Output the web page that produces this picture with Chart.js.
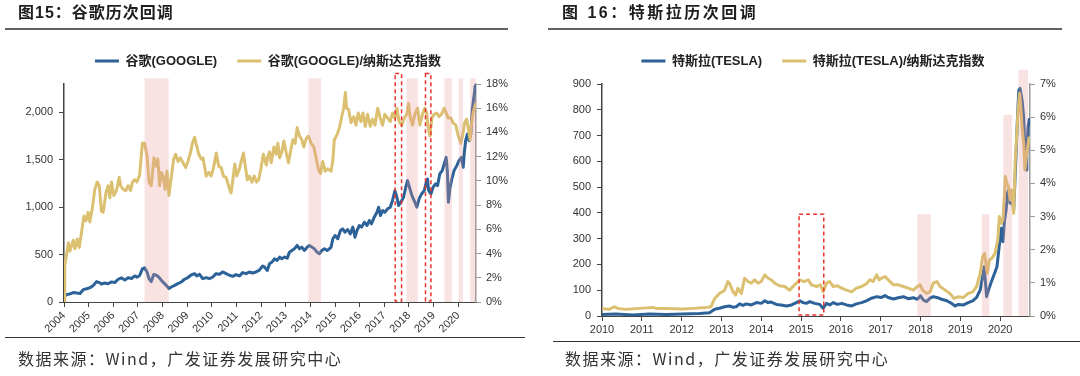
<!DOCTYPE html>
<html>
<head>
<meta charset="utf-8">
<script src="https://cdn.jsdelivr.net/npm/chart.js@4"></script>
<style>
  body { margin: 0; width: 1080px; height: 376px; background: #fff; position: relative; overflow: hidden; }
  .panel { position: absolute; top: 0; width: 540px; height: 376px; }
  .panel canvas { position: absolute; left: 0; top: 0; }
  .title { position: absolute; top: 2px; font: bold 16px "Liberation Sans", "Noto Sans CJK SC", sans-serif; line-height: 22px; letter-spacing: 1px; color: #1e1e1e; white-space: nowrap; }
  .rule { position: absolute; height: 2px; background: #606060; }
  .foot { position: absolute; height: 1px; background: #333; }
  .src { position: absolute; font: 16px "Noto Sans CJK SC", sans-serif; line-height: 20px; letter-spacing: 1.5px; color: #333; white-space: nowrap; }
</style>
</head>
<body>
<div class="panel" style="left:0">
  <canvas id="google" width="540" height="376"></canvas>
  <div class="title" style="left:18px">图15：谷歌历次回调</div>
  <div class="rule" style="left:5px;width:503px;top:28px"></div>
  <div class="foot" style="left:5px;width:520px;top:337px"></div>
  <div class="src" style="left:18px;top:348px">数据来源：Wind，广发证券发展研究中心</div>
</div>
<div class="panel" style="left:540px">
  <canvas id="tesla" width="540" height="376"></canvas>
  <div class="title" style="left:22px;letter-spacing:2.5px">图 16：特斯拉历次回调</div>
  <div class="rule" style="left:8px;width:514px;top:28px"></div>
  <div class="foot" style="left:13px;width:527px;top:341px"></div>
  <div class="src" style="left:25px;top:348px">数据来源：Wind，广发证券发展研究中心</div>
</div>
<script>
// 谷歌 股价（左轴）
const googleYears = [2004.00, 2004.11, 2004.24, 2004.38, 2004.51, 2004.65, 2004.78, 2004.92, 2005.05, 2005.19,
  2005.32, 2005.43, 2005.52, 2005.66, 2005.79, 2005.93, 2006.06, 2006.20, 2006.33, 2006.47,
  2006.60, 2006.74, 2006.87, 2006.96, 2007.07, 2007.18, 2007.27, 2007.37, 2007.45, 2007.54,
  2007.64, 2007.75, 2007.85, 2007.95, 2008.04, 2008.15, 2008.26, 2008.35, 2008.49, 2008.62,
  2008.76, 2008.89, 2009.03, 2009.16, 2009.30, 2009.39, 2009.50, 2009.63, 2009.77, 2009.90,
  2010.04, 2010.17, 2010.31, 2010.44, 2010.58, 2010.71, 2010.85, 2010.98, 2011.12, 2011.25,
  2011.39, 2011.52, 2011.65, 2011.79, 2011.92, 2012.06, 2012.14, 2012.25, 2012.34, 2012.44,
  2012.54, 2012.65, 2012.75, 2012.84, 2012.95, 2013.06, 2013.15, 2013.25, 2013.35, 2013.46,
  2013.56, 2013.65, 2013.76, 2013.87, 2013.96, 2014.06, 2014.16, 2014.27, 2014.37, 2014.46,
  2014.57, 2014.68, 2014.77, 2014.84, 2014.91, 2015.00, 2015.11, 2015.22, 2015.31, 2015.40,
  2015.51, 2015.62, 2015.72, 2015.81, 2015.89, 2015.99, 2016.08, 2016.19, 2016.30, 2016.39,
  2016.48, 2016.59, 2016.70, 2016.77, 2016.84, 2016.93, 2017.02, 2017.13, 2017.24, 2017.33,
  2017.43, 2017.51, 2017.58, 2017.67, 2017.78, 2017.87, 2017.94, 2018.02, 2018.12, 2018.21,
  2018.32, 2018.41, 2018.51, 2018.62, 2018.70, 2018.75, 2018.80, 2018.89, 2018.98, 2019.08,
  2019.16, 2019.25, 2019.35, 2019.43, 2019.51, 2019.56, 2019.60, 2019.66, 2019.74, 2019.83,
  2019.94, 2020.03, 2020.13, 2020.20, 2020.24, 2020.30, 2020.37, 2020.44, 2020.51, 2020.57,
  2020.64, 2020.69, 2020.72];
const googlePrice = [55, 80, 85, 100, 95, 90, 130, 140, 150, 175,
  215, 205, 190, 200, 192, 212, 205, 240, 255, 232,
  255, 248, 275, 262, 280, 350, 360, 317, 246, 215,
  290, 282, 262, 229, 204, 176, 141, 158, 176, 194,
  211, 240, 258, 285, 299, 275, 292, 246, 257, 246,
  264, 299, 292, 317, 299, 282, 271, 289, 275, 310,
  299, 317, 306, 317, 334, 380, 368, 333, 404, 421,
  456, 439, 474, 456, 474, 463, 526, 544, 561, 597,
  561, 579, 544, 579, 597, 579, 561, 526, 509, 544,
  561, 544, 561, 579, 667, 702, 667, 754, 772, 737,
  765, 719, 790, 684, 754, 807, 790, 842, 807, 860,
  825, 895, 947, 1000, 912, 965, 947, 983, 1000, 1070,
  1175, 1105, 1018, 1053, 1105, 1211, 1281, 1211, 1123, 1070,
  1000, 1088, 1140, 1175, 1263, 1298, 1175, 1140, 1211, 1246,
  1228, 1351, 1386, 1456, 1526, 1369, 1053, 1193, 1298, 1386,
  1439, 1491, 1526, 1421, 1561, 1702, 1772, 1702, 1772, 2035,
  2175, 2281, 2211];
const googlePriceTicks = [0, 500, 1000, 1500, 2000];

// 谷歌/纳斯达克指数（右轴，%）
const googleRatioYears = [2004.00, 2004.03, 2004.18, 2004.24, 2004.38, 2004.45, 2004.54, 2004.62, 2004.71, 2004.81,
  2004.89, 2004.98, 2005.05, 2005.16, 2005.25, 2005.35, 2005.43, 2005.52, 2005.59, 2005.70,
  2005.79, 2005.86, 2005.93, 2006.02, 2006.13, 2006.24, 2006.30, 2006.40, 2006.51, 2006.60,
  2006.70, 2006.78, 2006.87, 2006.96, 2007.07, 2007.18, 2007.27, 2007.37, 2007.45, 2007.54,
  2007.65, 2007.75, 2007.81, 2007.88, 2007.95, 2008.02, 2008.10, 2008.18, 2008.26, 2008.36,
  2008.45, 2008.53, 2008.63, 2008.72, 2008.83, 2008.94, 2009.03, 2009.13, 2009.21, 2009.30,
  2009.37, 2009.47, 2009.57, 2009.64, 2009.72, 2009.77, 2009.88, 2009.97, 2010.07, 2010.18,
  2010.28, 2010.38, 2010.47, 2010.58, 2010.69, 2010.78, 2010.84, 2010.93, 2011.01, 2011.12,
  2011.18, 2011.28, 2011.36, 2011.44, 2011.52, 2011.63, 2011.72, 2011.82, 2011.90, 2011.99,
  2012.09, 2012.21, 2012.27, 2012.34, 2012.41, 2012.52, 2012.61, 2012.68, 2012.75, 2012.84,
  2012.92, 2013.02, 2013.11, 2013.19, 2013.29, 2013.38, 2013.46, 2013.56, 2013.65, 2013.73,
  2013.83, 2013.92, 2014.03, 2014.14, 2014.23, 2014.33, 2014.41, 2014.50, 2014.60, 2014.70,
  2014.84, 2014.91, 2014.97, 2015.08, 2015.18, 2015.27, 2015.35, 2015.42, 2015.47, 2015.55,
  2015.65, 2015.76, 2015.85, 2015.94, 2016.05, 2016.13, 2016.23, 2016.32, 2016.43, 2016.52,
  2016.62, 2016.73, 2016.83, 2016.93, 2017.02, 2017.13, 2017.24, 2017.33, 2017.43, 2017.51,
  2017.60, 2017.70, 2017.81, 2017.91, 2017.98, 2018.05, 2018.14, 2018.24, 2018.35, 2018.44,
  2018.55, 2018.64, 2018.72, 2018.78, 2018.85, 2018.93, 2019.02, 2019.13, 2019.22, 2019.32,
  2019.43, 2019.51, 2019.59, 2019.70, 2019.79, 2019.90, 2019.99, 2020.10, 2020.18, 2020.26,
  2020.34, 2020.42, 2020.48, 2020.53, 2020.61, 2020.71];
const googleRatio = [0, 3.0, 4.9, 4.2, 5.1, 4.4, 5.2, 4.5, 5.75, 7.1,
  6.7, 7.4, 6.6, 7.9, 9.3, 9.9, 9.6, 7.5, 7.4, 9.0,
  9.6, 8.6, 9.9, 8.8, 9.2, 10.3, 9.6, 9.3, 9.2, 9.6,
  9.2, 9.9, 10.1, 9.9, 10.5, 13.1, 13.1, 12.1, 9.9, 9.6,
  11.9, 11.2, 11.8, 9.6, 10.7, 10.4, 9.3, 10.8, 8.8, 10.4,
  11.8, 12.2, 11.6, 11.9, 11.5, 11.1, 11.6, 12.3, 13.1, 13.6,
  13.0, 12.2, 11.8, 11.9, 11.0, 10.4, 10.7, 10.4, 11.1, 12.3,
  11.2, 11.1, 10.4, 10.3, 9.5, 9.0, 9.9, 11.4, 10.4, 11.0,
  11.5, 12.3, 11.2, 10.1, 10.4, 9.9, 10.4, 9.9, 10.1, 11.0,
  12.2, 11.3, 12.0, 12.4, 11.5, 12.8, 12.2, 13.1, 11.9, 12.4,
  13.3, 12.3, 11.5, 12.4, 13.4, 13.1, 14.4, 13.7, 13.4, 12.8,
  13.5, 13.7, 13.1, 12.8, 11.9, 10.9, 10.6, 11.6, 10.8, 11.0,
  10.8, 11.7, 13.4, 13.8, 14.4, 15.3, 16.0, 17.3, 16.0, 15.9,
  14.8, 15.3, 14.6, 15.6, 14.9, 15.6, 14.5, 15.5, 14.5, 15.1,
  14.6, 16.0, 15.2, 14.6, 15.5, 15.2, 14.9, 15.6, 15.2, 16.0,
  14.9, 14.6, 15.2, 15.5, 16.4, 15.3, 14.6, 15.5, 16.0, 14.6,
  15.5, 16.0, 15.6, 14.4, 13.7, 15.2, 15.5, 15.6, 15.3, 15.5,
  16.0, 15.6, 15.2, 15.2, 14.8, 14.6, 13.8, 13.1, 13.8, 14.8,
  15.1, 14.2, 13.4, 14.6, 15.7, 16.4];

// 特斯拉 股价（左轴）
const teslaYears = [2010.00, 2010.35, 2010.77, 2011.19, 2011.61, 2012.03, 2012.45, 2012.70, 2012.83, 2012.95,
  2013.08, 2013.20, 2013.29, 2013.37, 2013.46, 2013.54, 2013.62, 2013.75, 2013.88, 2014.00,
  2014.09, 2014.17, 2014.25, 2014.38, 2014.50, 2014.63, 2014.76, 2014.88, 2014.97, 2015.05,
  2015.13, 2015.22, 2015.34, 2015.47, 2015.55, 2015.64, 2015.72, 2015.81, 2015.91, 2016.02,
  2016.14, 2016.27, 2016.39, 2016.52, 2016.64, 2016.77, 2016.90, 2017.02, 2017.11, 2017.19,
  2017.32, 2017.44, 2017.57, 2017.69, 2017.82, 2017.92, 2018.00, 2018.07, 2018.15, 2018.24,
  2018.32, 2018.41, 2018.53, 2018.66, 2018.78, 2018.87, 2018.95, 2019.08, 2019.20, 2019.31,
  2019.41, 2019.50, 2019.56, 2019.60, 2019.63, 2019.66, 2019.71, 2019.77, 2019.83, 2019.92,
  2019.98, 2020.03, 2020.07, 2020.11, 2020.15, 2020.18, 2020.21, 2020.25, 2020.29, 2020.34,
  2020.37, 2020.40, 2020.44, 2020.47, 2020.50, 2020.55, 2020.59, 2020.62, 2020.65, 2020.67,
  2020.70, 2020.74];
const teslaPrice = [6, 8, 4, 8, 6, 8, 10, 13, 26, 30,
  36, 39, 34, 36, 47, 41, 47, 43, 52, 49,
  59, 52, 54, 45, 43, 39, 43, 52, 59, 52,
  49, 56, 49, 45, 30, 49, 43, 52, 45, 49,
  43, 39, 47, 52, 59, 69, 75, 72, 79, 72,
  66, 71, 75, 67, 71, 65, 78, 62, 56, 69,
  75, 72, 65, 59, 49, 39, 45, 43, 52, 59,
  72, 101, 153, 191, 133, 75, 101, 129, 153, 191,
  275, 340, 288, 372, 411, 476, 489, 437, 469, 411,
  515, 631, 786, 877, 883, 838, 773, 657, 566, 631,
  734, 767];

// 特斯拉/纳斯达克指数（右轴，%）
const teslaRatioYears = [2010.00, 2010.18, 2010.31, 2010.39, 2010.60, 2010.94, 2011.28, 2011.36, 2011.61, 2012.03,
  2012.28, 2012.62, 2012.74, 2012.83, 2012.95, 2013.08, 2013.16, 2013.20, 2013.29, 2013.36,
  2013.41, 2013.50, 2013.58, 2013.67, 2013.75, 2013.83, 2013.92, 2014.00, 2014.09, 2014.17,
  2014.25, 2014.34, 2014.46, 2014.59, 2014.71, 2014.84, 2014.97, 2015.07, 2015.18, 2015.26,
  2015.39, 2015.49, 2015.55, 2015.64, 2015.72, 2015.81, 2015.91, 2016.02, 2016.14, 2016.27,
  2016.39, 2016.52, 2016.64, 2016.73, 2016.81, 2016.90, 2016.96, 2017.02, 2017.11, 2017.19,
  2017.32, 2017.44, 2017.57, 2017.69, 2017.82, 2017.92, 2017.99, 2018.05, 2018.15, 2018.24,
  2018.32, 2018.41, 2018.49, 2018.62, 2018.74, 2018.84, 2018.95, 2019.08, 2019.20, 2019.31,
  2019.41, 2019.50, 2019.56, 2019.61, 2019.65, 2019.68, 2019.73, 2019.79, 2019.87, 2019.94,
  2019.98, 2020.03, 2020.07, 2020.11, 2020.13, 2020.17, 2020.21, 2020.25, 2020.29, 2020.34,
  2020.38, 2020.42, 2020.45, 2020.49, 2020.52, 2020.55, 2020.59, 2020.62, 2020.65, 2020.69,
  2020.73];
const teslaRatio = [0.23, 0.20, 0.28, 0.23, 0.20, 0.23, 0.26, 0.23, 0.23, 0.21,
  0.23, 0.26, 0.28, 0.53, 0.68, 0.78, 1.04, 0.99, 0.73, 0.63,
  0.84, 0.68, 1.14, 1.04, 0.99, 1.09, 0.99, 1.04, 1.24, 1.14,
  1.09, 0.99, 0.91, 0.89, 0.78, 0.94, 1.09, 1.04, 1.09, 0.94,
  0.89, 0.94, 0.73, 0.99, 1.04, 0.89, 0.91, 0.84, 0.78, 0.73,
  0.84, 0.89, 0.97, 1.09, 1.04, 1.24, 1.09, 1.14, 1.19, 1.09,
  0.94, 0.94, 0.89, 0.84, 0.78, 0.89, 0.94, 0.78, 0.68, 0.73,
  0.99, 1.04, 0.89, 0.78, 0.68, 0.53, 0.58, 0.56, 0.68, 0.73,
  0.89, 1.29, 1.79, 1.89, 1.49, 1.29, 1.69, 1.74, 1.89, 2.29,
  3.00, 2.80, 2.90, 3.70, 4.21, 4.00, 3.90, 3.50, 3.80, 3.10,
  4.71, 5.51, 6.22, 6.72, 6.32, 5.71, 5.21, 4.41, 4.71, 5.11,
  5.41];

// 回调区间（年份）及阴影顶端（左轴数值）
const googleDips = [[2007.27, 2008.25], [2013.92, 2014.43], [2017.90, 2018.36], [2019.44, 2019.74], [2020.02, 2020.19], [2020.48, 2020.71]];
const googleDipTops = [2360, 2360, 2360, 2360, 2360, 2360];
const googleBoxes = [[2017.44, 2017.70], [2018.67, 2018.89]];
const googleBoxTops = [2410, 2410];
const teslaDips = [[2017.92, 2018.26], [2019.54, 2019.73], [2020.08, 2020.30], [2020.46, 2020.70]];
const teslaDipTops = [395, 395, 780, 955];
const teslaBoxes = [[2014.95, 2015.57]];
const teslaBoxTops = [395];

const BLUE = '#2c6298';
const GOLD = '#dcc071';
Chart.defaults.font.family = '"Liberation Sans", "Noto Sans CJK SC", sans-serif';
Chart.defaults.color = '#333';

const pts = (xs, ys) => xs.map((x, i) => ({x: x, y: ys[i]}));

const marks = {
    id: 'marks',
    afterDatasetsDraw(chart, args, opts) {
        const {ctx, chartArea} = chart;
        const x = chart.scales.x, y = chart.scales.y;
        ctx.save();
        ctx.fillStyle = 'rgba(232,150,150,0.28)';
        opts.dips.forEach((d, i) => {
            const x0 = x.getPixelForValue(d[0]), x1 = x.getPixelForValue(d[1]);
            const top = y.getPixelForValue(opts.dipTops[i]);
            ctx.fillRect(x0, top, x1 - x0, chartArea.bottom - top);
        });
        ctx.strokeStyle = '#e8342c';
        ctx.lineWidth = 1.5;
        ctx.setLineDash([4, 3]);
        opts.boxes.forEach((d, i) => {
            const x0 = x.getPixelForValue(d[0]), x1 = x.getPixelForValue(d[1]);
            const top = y.getPixelForValue(opts.boxTops[i]);
            ctx.strokeRect(x0, top, x1 - x0, chartArea.bottom - 1 - top);
        });
        ctx.restore();
    }
};

// legend sits a little higher above the plot than Chart.js allows by default
const legendGap = {
    id: 'legendGap',
    afterInit(chart) {
        const lg = chart.legend;
        const fit = lg.fit;
        lg.fit = function () {
            fit.call(this);
            this.height += 6.5;
        };
    }
};

function axisTicks(color) {
    return {display: true, drawOnChartArea: false, tickLength: 5, color: color};
}

function panel(id, c) {
    return new Chart(document.getElementById(id), {
        type: 'line',
        data: {
            datasets: [
                {
                    label: c.names[0], data: pts(c.px, c.py), yAxisID: 'y', order: 1,
                    borderColor: BLUE, backgroundColor: BLUE, borderWidth: 3, pointRadius: 0, borderJoinStyle: 'round'
                },
                {
                    label: c.names[1], data: pts(c.rx, c.ry), yAxisID: 'y1', order: 0,
                    borderColor: GOLD, backgroundColor: GOLD, borderWidth: 3, pointRadius: 0, borderJoinStyle: 'round'
                }
            ]
        },
        options: {
            responsive: false,
            animation: false,
            layout: {padding: c.padding},
            plugins: {
                tooltip: {enabled: false},
                legend: {
                    position: 'top',
                    labels: {
                        usePointStyle: true, pointStyle: 'line', pointStyleWidth: 24,
                        font: {size: 13, weight: 'bold'}, color: '#222', padding: 20,
                        sort: (a, b) => a.datasetIndex - b.datasetIndex
                    }
                },
                marks: {dips: c.dips, dipTops: c.dipTops, boxes: c.boxes, boxTops: c.boxTops}
            },
            scales: {
                x: {
                    type: 'linear', min: c.xmin, max: c.xmax,
                    grid: axisTicks('#444'),
                    border: {color: '#444', width: 1},
                    ticks: {
                        stepSize: 1, includeBounds: false, autoSkip: false,
                        minRotation: c.rot, maxRotation: c.rot, padding: 2,
                        font: {size: 11}, color: '#333',
                        callback: v => String(Math.round(v))
                    },
                    afterFit: s => { s.height = c.xHeight; }
                },
                y: {
                    position: 'left', min: 0, max: c.ymax,
                    grid: axisTicks('#444'),
                    border: {color: '#444', width: 1.5},
                    ticks: {padding: 6, font: {size: 11}, color: '#333',
                        callback: v => v.toLocaleString('en-US')},
                    afterBuildTicks: s => { s.ticks = c.yticks.map(v => ({value: v})); },
                    afterFit: s => { s.width = c.yWidth; }
                },
                y1: {
                    position: 'right', min: 0, max: c.y1max,
                    grid: axisTicks('#999'),
                    border: {color: '#999', width: 1.5},
                    ticks: {stepSize: c.y1step, includeBounds: false, padding: 5, font: {size: 11}, color: '#333',
                        callback: v => v + '%'},
                    afterFit: s => { s.width = c.y1Width; }
                }
            }
        },
        plugins: [marks, legendGap]
    });
}

panel('google', {
    names: ['谷歌(GOOGLE)', '谷歌(GOOGLE)/纳斯达克指数'],
    px: googleYears, py: googlePrice, rx: googleRatioYears, ry: googleRatio,
    dips: googleDips, dipTops: googleDipTops, boxes: googleBoxes, boxTops: googleBoxTops,
    xmin: 2004, xmax: 2020.72, rot: 45, xHeight: 40,
    ymax: 2300, yticks: googlePriceTicks, y1max: 18, y1step: 2,
    yWidth: 50, y1Width: 46,
    padding: {left: 14, right: 18, top: 34.5, bottom: 34}
});

panel('tesla', {
    names: ['特斯拉(TESLA)', '特斯拉(TESLA)/纳斯达克指数'],
    px: teslaYears, py: teslaPrice, rx: teslaRatioYears, ry: teslaRatio,
    dips: teslaDips, dipTops: teslaDipTops, boxes: teslaBoxes, boxTops: teslaBoxTops,
    xmin: 2010, xmax: 2020.75, rot: 0, xHeight: 24,
    ymax: 900, yticks: [0, 100, 200, 300, 400, 500, 600, 700, 800, 900], y1max: 7, y1step: 1,
    yWidth: 48, y1Width: 42,
    padding: {left: 14, right: 8, top: 34.5, bottom: 36}
});
</script>
</body>
</html>
